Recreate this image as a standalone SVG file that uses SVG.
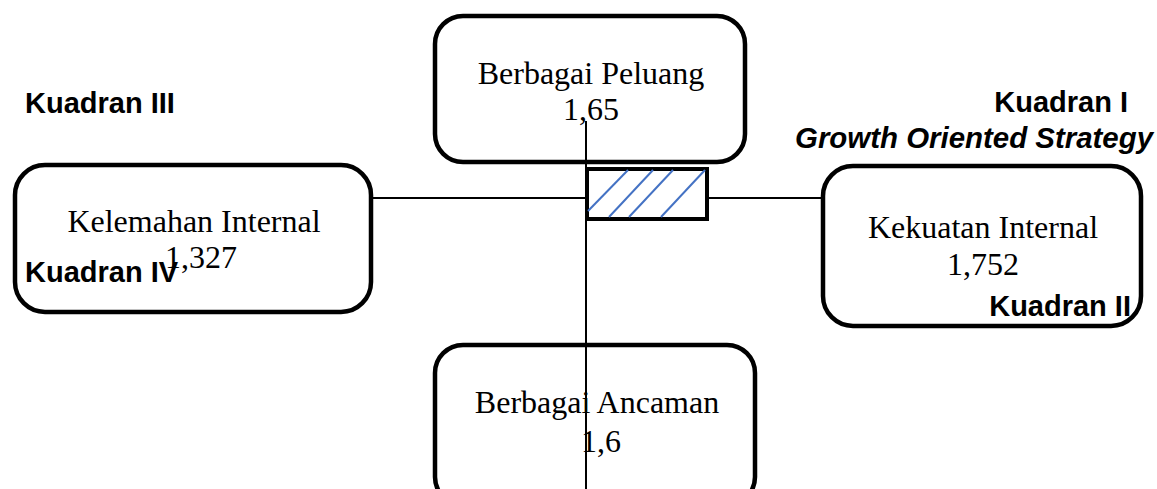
<svg xmlns="http://www.w3.org/2000/svg" width="1157" height="489" viewBox="0 0 1157 489">
<style>
.box{fill:#fff;stroke:#000;stroke-width:4.5}
.lbl{font-family:"Liberation Serif","Times New Roman",serif;font-size:32px;fill:#000;text-anchor:middle}
.kd{font-family:"Liberation Sans",Arial,sans-serif;font-size:29px;font-weight:bold;fill:#000}
.ln{stroke:#000;stroke-width:2;fill:none}
.hatch{stroke:#4472C4;stroke-width:2}
</style>
<rect width="1157" height="489" fill="#fff"/>
<g id="node-peluang">
<rect class="box" x="435" y="16" width="310" height="146" rx="28"/>
</g>
<g id="node-kelemahan">
<rect class="box" x="15" y="165" width="356" height="147" rx="30"/>
</g>
<g id="node-kekuatan">
<rect class="box" x="823" y="166" width="318" height="160" rx="30"/>
</g>
<g id="node-ancaman">
<rect class="box" x="435" y="345" width="320" height="160" rx="28"/>
</g>
<g id="connectors">
<line class="ln" x1="372" y1="198" x2="823" y2="198"/>
<line class="ln" x1="586" y1="121" x2="586" y2="489"/>
</g>
<g id="node-position">
<rect x="587" y="169" width="120" height="50" fill="#fff" stroke="#000" stroke-width="4"/>
<line class="hatch" x1="588" y1="211" x2="628" y2="170"/>
<line class="hatch" x1="609" y1="217" x2="653" y2="170"/>
<line class="hatch" x1="629" y1="217" x2="673" y2="170"/>
<line class="hatch" x1="661" y1="217" x2="705" y2="170"/>
</g>
<g id="labels">
<text class="lbl" x="591" y="84">Berbagai Peluang</text>
<text class="lbl" x="591" y="120">1,65</text>
<text class="lbl" x="194" y="232">Kelemahan Internal</text>
<text class="lbl" x="201" y="268">1,327</text>
<text class="lbl" x="983" y="238">Kekuatan Internal</text>
<text class="lbl" x="983" y="275">1,752</text>
<text class="lbl" x="597" y="413">Berbagai Ancaman</text>
<text class="lbl" x="601" y="452">1,6</text>
<text class="kd" x="25" y="113">Kuadran III</text>
<text class="kd" x="1128" y="112" text-anchor="end">Kuadran I</text>
<text class="kd" x="795" y="148" font-style="italic" textLength="358" lengthAdjust="spacingAndGlyphs">Growth Oriented Strategy</text>
<text class="kd" x="25" y="282">Kuadran IV</text>
<text class="kd" x="1131" y="316" text-anchor="end">Kuadran II</text>
</g>
</svg>
